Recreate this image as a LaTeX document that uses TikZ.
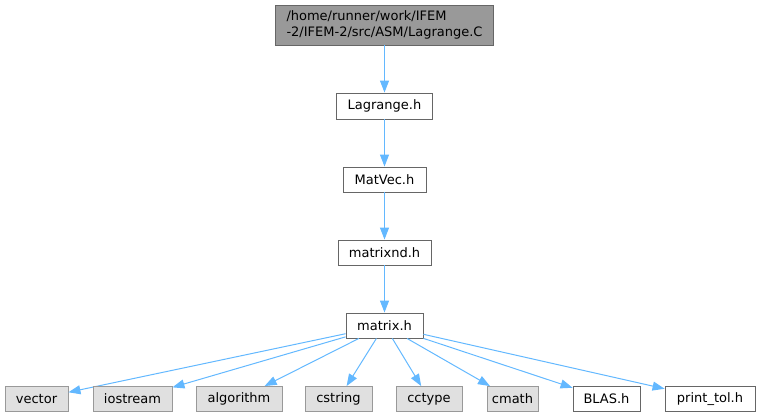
\documentclass[tikz,border=0pt]{standalone}
\usepackage{fontspec}
\setmainfont{DejaVu Sans}
\usetikzlibrary{arrows.meta}

\definecolor{edgeblue}{HTML}{63B8FF}
\definecolor{topfill}{HTML}{999999}
\definecolor{sysfill}{HTML}{E0E0E0}

\tikzset{
  file/.style={draw=black!60, fill=white, line width=0.9pt, inner sep=0pt,
    minimum height=25pt, font=\fontsize{13}{16}\selectfont},
  sysfile/.style={file, draw=black!40, fill=sysfill},
  edge/.style={draw=edgeblue, line width=1pt, -{Triangle[length=12pt,width=9pt]}}
}

\begin{document}
\begin{tikzpicture}[x=1pt,y=-1pt]
      \useasboundingbox (0,0) rectangle (759,417);

      \node[file, fill=topfill, minimum width=218pt, minimum height=40pt, align=left]
        (lagc) at (384.5,25) {/home/runner/work/IFEM\\-2/IFEM-2/src/ASM/Lagrange.C};
      \node[file, minimum width=96pt, minimum height=26pt] (lagh) at (384.5,106) {Lagrange.h};
      \node[file, minimum width=83pt] (matvec) at (384.5,179.5) {MatVec.h};
      \node[file, minimum width=93pt] (mtxnd) at (384.5,252.5) {matrixnd.h};
      \node[file, minimum width=77pt] (mtx) at (384.5,325.5) {matrix.h};

      \draw[edge] (lagc) -- (lagh);
      \draw[edge] (lagh) -- (matvec);
      \draw[edge] (matvec) -- (mtxnd);
      \draw[edge] (mtxnd) -- (mtx);

      % included headers
      \foreach \n/\x/\w/\s/\t in {vec/36.5/63/sysfile/vector, ios/132.5/79/sysfile/iostream,
          alg/239/86/sysfile/algorithm, cstr/338.5/67/sysfile/cstring,
          cct/429/66/sysfile/cctype, cmth/512.5/51/sysfile/cmath,
          blas/606.5/67/file/BLAS.h, ptol/710/90/file/print\_tol.h}{
        \node[\s, minimum width=\w pt] (\n) at (\x,399) {\t};
        \draw[edge] (mtx) -- (\n);
      }
    \end{tikzpicture}
\end{document}
